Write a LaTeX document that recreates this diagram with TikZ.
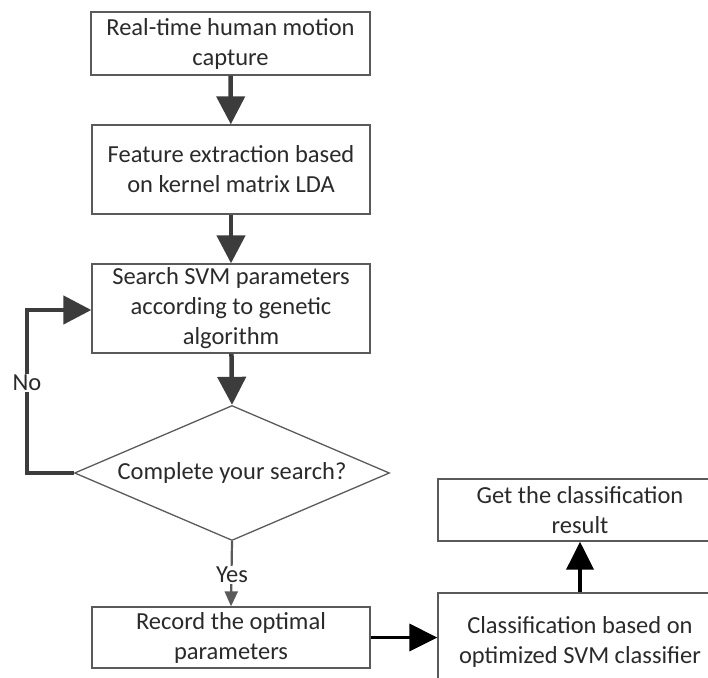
\documentclass[tikz,border=0pt]{standalone}
\usepackage{fontspec}
\setmainfont{Carlito}
\usetikzlibrary{arrows.meta,shapes.geometric}
\definecolor{txt}{HTML}{2A2A2A}
\definecolor{edge}{HTML}{5A5A5A}
\definecolor{arr}{HTML}{3C3C3C}
\tikzset{
  box/.style={draw=edge, line width=1.3pt, rectangle, inner sep=0pt, align=center,
    text=txt, font=\fontsize{24.5}{30}\selectfont},
  flow/.style={draw=arr, line width=4.5pt, -{Triangle[length=28pt,width=28pt]}},
  flowb/.style={draw=black, line width=3.5pt, -{Triangle[length=28pt,width=27pt]}},
  lab/.style={fill=white, inner sep=1pt, text=txt, font=\fontsize{24.5}{30}\selectfont},
}
\begin{document}
\begin{tikzpicture}[x=1pt,y=-1pt]
\useasboundingbox (0,0) rectangle (708,677);
\clip (0,0) rectangle (708,677);
\node[box, minimum width=279pt, minimum height=63pt] (b1) at (230.5,43.5)
  {Real-time human motion\\capture};
\node[box, minimum width=278pt, minimum height=89pt] (b2) at (231,169.5)
  {Feature extraction based\\on kernel matrix LDA};
\node[box, minimum width=278pt, minimum height=89pt] (b3) at (231,308.5)
  {Search SVM parameters\\according to genetic\\algorithm};
\node[draw=edge, line width=1.3pt, diamond, inner sep=0pt, minimum width=315pt,
  minimum height=135pt] (d) at (232,473) {};
\node[text=txt, font=\fontsize{24.5}{30}\selectfont] (dt) at (d.center) {Complete your search?};
\node[box, minimum width=278pt, minimum height=61pt] (rec) at (231,637.5)
  {Record the optimal\\parameters};
\node[box, minimum width=284pt, minimum height=62pt] (get) at (580,510)
  {Get the classification\\result};
\node[box, minimum width=284pt, minimum height=98pt] (cls) at (580,642)
  {Classification based on\\optimized SVM classifier};
\coordinate (lp) at (27,473);
\coordinate (lt) at (27,310);

\draw[flow] (b1) -- (b2);
\draw[flow] (b2) -- (b3);
\draw[flow] (b3) -- (d.north);
\draw[draw=arr, line width=4.5pt, -{Triangle[length=28pt,width=28pt]}]
  (d.west) -- (lp) -- (lt) -- (b3.west |- lt);
\node[lab] (no) at (27,383) {No};
\draw[draw=edge, line width=2.2pt, -{Triangle[length=15pt,width=13pt]}] (d.south) -- (rec.north);
\node[lab] (yes) at (232,575) {Yes};
\draw[flowb] (rec.east) -- (cls.west |- rec.east);
\draw[flowb] (cls.north -| get.south) -- (get.south);
\end{tikzpicture}
\end{document}
